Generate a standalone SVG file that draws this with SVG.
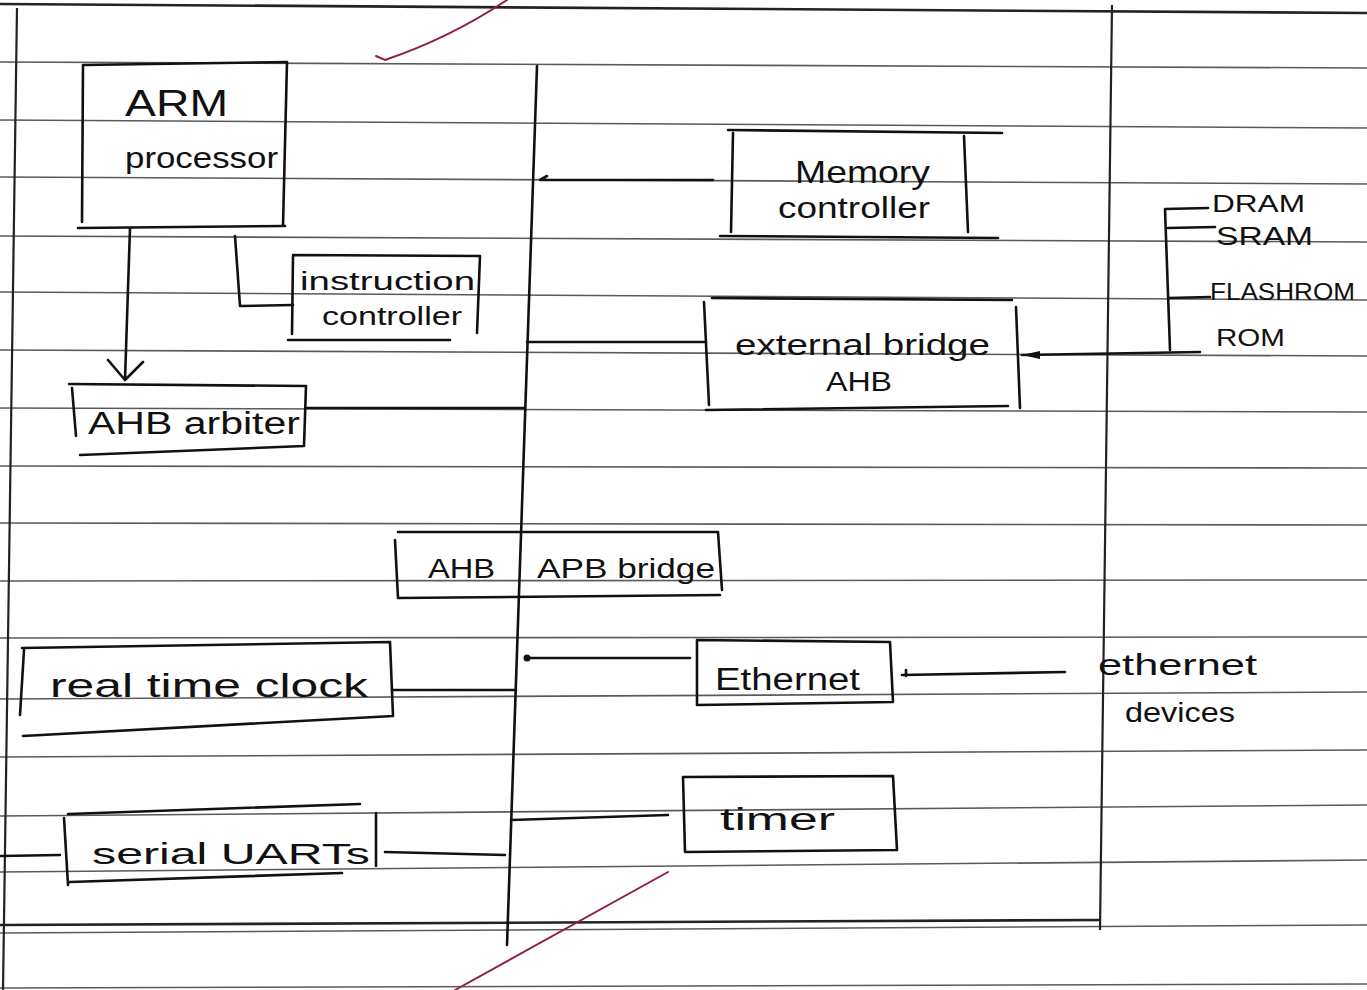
<svg xmlns="http://www.w3.org/2000/svg" width="1367" height="990" viewBox="0 0 1367 990">
<style>
.rule{stroke:#5a5a5a;stroke-width:1.6;fill:none}
.ink{stroke:#111;stroke-width:2.6;fill:none;stroke-linecap:round;stroke-linejoin:round}
.red{stroke:#8e2040;stroke-width:2;fill:none;stroke-linecap:round}
text{font-family:"Liberation Sans",Arial,sans-serif;fill:#111}
</style>
<rect width="1367" height="990" fill="#ffffff"/>
<g id="paper">
<path class="rule" d="M0,62 L1367,68"/>
<path class="rule" d="M0,120 L1367,128"/>
<path class="rule" d="M0,177 L1367,184"/>
<path class="rule" d="M0,236 L1367,242"/>
<path class="rule" d="M0,292 L1367,300"/>
<path class="rule" d="M0,350 L1367,356"/>
<path class="rule" d="M0,408 L1367,412"/>
<path class="rule" d="M0,466 L1367,468"/>
<path class="rule" d="M0,523 L1367,525"/>
<path class="rule" d="M0,581 L1367,580"/>
<path class="rule" d="M0,638 L1367,637"/>
<path class="rule" d="M0,699 L1367,692"/>
<path class="rule" d="M0,757 L1367,750"/>
<path class="rule" d="M0,816 L1367,805"/>
<path class="rule" d="M0,872 L1367,860"/>
<path class="rule" d="M0,933 L1367,925"/>
<path class="rule" d="M0,988 L1367,984"/>
<path d="M0,4 L1367,13" stroke="#222" stroke-width="2.6" fill="none"/>
<path d="M0,925 L1100,920" stroke="#222" stroke-width="2.6" fill="none"/>
<path d="M17,8 L3,990" stroke="#222" stroke-width="2.2" fill="none"/>
<path d="M1112,5 L1100,930" stroke="#222" stroke-width="2.2" fill="none"/>
<path class="red" d="M507,0 Q450,38 385,60 L376,56"/>
<path class="red" d="M668,872 L455,990"/>
</g>
<g id="bus">
<path class="ink" d="M537,66 L507,945"/>
</g>
<g id="arm-processor">
<path class="ink" d="M83,65 L287,62 L283,226 M83,65 L82,222 M78,228 L285,226"/>
<text x="125" y="116" font-size="36" textLength="103" lengthAdjust="spacingAndGlyphs">ARM</text>
<text x="125" y="168" font-size="30" textLength="153" lengthAdjust="spacingAndGlyphs">processor</text>
</g>
<g id="instruction-controller">
<path class="ink" d="M293,256 L292,334 M288,340 L450,340 M293,255 L480,256 M480,256 L477,333"/>
<text x="300" y="290" font-size="26" textLength="175" lengthAdjust="spacingAndGlyphs">instruction</text>
<text x="322" y="325" font-size="26" textLength="140" lengthAdjust="spacingAndGlyphs">controller</text>
</g>
<g id="ahb-arbiter">
<path class="ink" d="M69,384 L306,386 L304,446 L80,455 M72,388 L76,436"/>
<text x="88" y="434" font-size="31" textLength="212" lengthAdjust="spacingAndGlyphs">AHB arbiter</text>
</g>
<g id="memory-controller">
<path class="ink" d="M728,130 L1002,133 M733,133 L731,232 M964,136 L968,232 M720,236 L998,238"/>
<text x="795" y="183" font-size="32" textLength="135" lengthAdjust="spacingAndGlyphs">Memory</text>
<text x="778" y="218" font-size="29" textLength="152" lengthAdjust="spacingAndGlyphs">controller</text>
</g>
<g id="external-bridge">
<path class="ink" d="M712,298 L1012,300 M704,302 L709,405 M1016,307 L1020,408 M706,410 L1008,406"/>
<text x="735" y="355" font-size="30" textLength="255" lengthAdjust="spacingAndGlyphs">external bridge</text>
<text x="826" y="391" font-size="28" textLength="66" lengthAdjust="spacingAndGlyphs">AHB</text>
</g>
<g id="memory-types">
<path class="ink" d="M1208,208 L1165,209 L1170,350 M1168,228 L1215,227 M1168,298 L1210,297"/>
<text x="1212" y="212" font-size="24" textLength="93" lengthAdjust="spacingAndGlyphs">DRAM</text>
<text x="1216" y="245" font-size="26" textLength="97" lengthAdjust="spacingAndGlyphs">SRAM</text>
<text x="1210" y="300" font-size="23" textLength="145" lengthAdjust="spacingAndGlyphs">FLASHROM</text>
<text x="1216" y="346" font-size="24" textLength="69" lengthAdjust="spacingAndGlyphs">ROM</text>
</g>
<g id="ahb-apb-bridge">
<path class="ink" d="M398,532 L718,532 L722,590 M395,540 L398,598 L720,595"/>
<text x="428" y="578" font-size="28" textLength="67" lengthAdjust="spacingAndGlyphs">AHB</text>
<text x="537" y="578" font-size="28" textLength="178" lengthAdjust="spacingAndGlyphs">APB bridge</text>
</g>
<g id="real-time-clock">
<path class="ink" d="M22,648 L390,642 L393,716 L23,736 M24,650 L20,715"/>
<text x="50" y="697" font-size="33" textLength="318" lengthAdjust="spacingAndGlyphs">real time clock</text>
</g>
<g id="ethernet">
<path class="ink" d="M697,640 L890,642 L893,702 L697,705 L697,640"/>
<text x="715" y="690" font-size="31" textLength="145" lengthAdjust="spacingAndGlyphs">Ethernet</text>
</g>
<g id="ethernet-devices">
<text x="1098" y="675" font-size="29" textLength="159" lengthAdjust="spacingAndGlyphs">ethernet</text>
<text x="1125" y="722" font-size="28" textLength="110" lengthAdjust="spacingAndGlyphs">devices</text>
</g>
<g id="timer">
<path class="ink" d="M683,777 L893,776 L897,850 L685,852 Z"/>
<text x="720" y="830" font-size="31" textLength="115" lengthAdjust="spacingAndGlyphs">timer</text>
</g>
<g id="serial-uart">
<path class="ink" d="M68,814 L360,804 M64,818 L68,885 M376,813 L376,866 M70,882 L342,873"/>
<text x="92" y="864" font-size="30" textLength="278" lengthAdjust="spacingAndGlyphs">serial UARTs</text>
</g>
<g id="connectors">
<path class="ink" d="M130,228 L125,380 M108,360 L125,380 L143,362"/>
<path class="ink" d="M235,236 L240,306 L293,305"/>
<path class="ink" d="M306,408 L524,408"/>
<path class="ink" d="M540,180 L713,180 M540,180 L547,176"/>
<path class="ink" d="M527,342 L706,342"/>
<path class="ink" d="M1022,355 L1200,352"/>
<path d="M1022,355 L1040,351 L1040,359 Z" fill="#111"/>
<path class="ink" d="M392,690 L516,690"/>
<circle cx="527" cy="658" r="3.5" fill="#111"/>
<path class="ink" d="M527,658 L690,658"/>
<path class="ink" d="M902,675 L1065,672 M906,670 L906,676"/>
<path class="ink" d="M511,820 L668,815"/>
<path class="ink" d="M0,856 L60,855"/>
<path class="ink" d="M385,852 L505,855"/>
</g>
</svg>
